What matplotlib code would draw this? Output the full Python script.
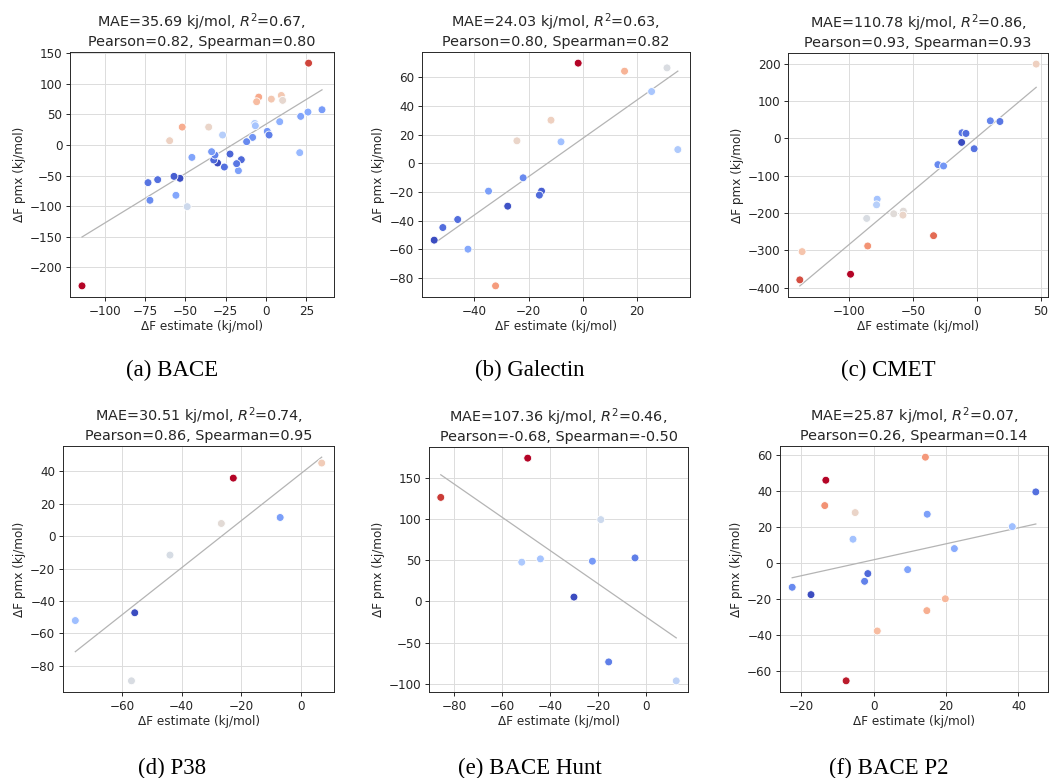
import numpy as np
import matplotlib
matplotlib.use("Agg")
import matplotlib.pyplot as plt
from matplotlib.colors import Normalize

# ---------------- data ----------------
bace_est = [-114.0, 26.4, 34.7, 26.0, 21.5, 20.9, 9.5, 10.3, 3.3, -4.5, -5.8, 8.5, 0.8, 1.9,
            -7.0, -6.6, -8.3, -12.0, -17.1, -15.3, -18.2, -22.3, -25.8, -30.0, -32.4, -31.6,
            -33.7, -26.9, -35.5, -51.9, -59.7, -45.9, -48.8, -55.8, -53.3, -57.0, -67.1, -73.1, -71.9]
bace_pmx = [-230.6, 134.1, 57.8, 54.0, 46.9, -12.5, 81.2, 73.1, 75.2, 78.5, 70.9, 38.2, 22.4, 16.4,
            35.4, 31.6, 12.5, 5.5, -42.0, -24.0, -30.5, -14.7, -36.0, -29.4, -24.5, -16.4,
            -10.9, 16.4, 29.4, 29.4, 7.1, -20.2, -100.9, -82.3, -54.5, -51.3, -56.7, -61.6, -90.5]

galectin_est = [-1.65, 15.5, 31.2, 25.5, 35.2, -11.7, -24.3, -8.0, -22.0, -15.2, -16.0, -27.7,
                -34.8, -46.2, -51.7, -54.9, -42.4, -32.2]
galectin_pmx = [69.8, 64.2, 66.5, 50.0, 9.5, 30.0, 15.6, 14.9, -10.2, -19.5, -22.3, -30.0,
                -19.5, -39.3, -44.9, -53.7, -60.0, -85.6]

cmet_est = [46.2, 10.4, 17.9, -11.7, -8.6, -12.0, -2.2, -30.5, -26.1, -77.9, -78.4, -65.0,
            -57.5, -57.8, -86.1, -33.9, -85.3, -136.5, -138.3, -98.7]
cmet_pmx = [199.0, 47.1, 45.3, 15.1, 13.3, -10.7, -27.6, -70.2, -73.8, -162.7, -177.8, -201.8,
            -194.7, -205.3, -214.2, -260.4, -288.0, -303.1, -378.7, -363.6]

p38_est = [6.9, -22.7, -7.0, -26.7, -43.9, -55.7, -75.6, -56.8]
p38_pmx = [45.1, 35.8, 11.5, 7.8, -11.7, -47.3, -52.1, -89.3]

hunt_est = [-49.4, -85.7, -18.9, -51.9, -44.1, -22.4, -4.6, -30.1, -15.6, 12.6]
hunt_pmx = [174.1, 126.4, 99.4, 47.7, 51.7, 48.9, 52.9, 5.3, -73.5, -96.5]

p2_est = [14.3, -13.2, 44.8, -13.5, -5.1, 14.8, 38.3, -5.7, 22.3, 9.4, -1.6, -2.5, -22.5,
          -17.3, 19.8, 14.7, 1.0, -7.6]
p2_pmx = [58.8, 46.0, 39.5, 31.9, 28.0, 27.1, 20.2, 13.2, 8.0, -3.7, -5.9, -10.2, -13.5,
          -17.6, -19.9, -26.5, -37.8, -65.5]

titles = [
    "MAE=35.69 kj/mol, $R^2$=0.67,\nPearson=0.82, Spearman=0.80",
    "MAE=24.03 kj/mol, $R^2$=0.63,\nPearson=0.80, Spearman=0.82",
    "MAE=110.78 kj/mol, $R^2$=0.86,\nPearson=0.93, Spearman=0.93",
    "MAE=30.51 kj/mol, $R^2$=0.74,\nPearson=0.86, Spearman=0.95",
    "MAE=107.36 kj/mol, $R^2$=0.46,\nPearson=-0.68, Spearman=-0.50",
    "MAE=25.87 kj/mol, $R^2$=0.07,\nPearson=0.26, Spearman=0.14",
]
captions = ["(a) BACE", "(b) Galectin", "(c) CMET", "(d) P38", "(e) BACE Hunt", "(f) BACE P2"]

datasets = [(bace_est, bace_pmx), (galectin_est, galectin_pmx), (cmet_est, cmet_pmx),
            (p38_est, p38_pmx), (hunt_est, hunt_pmx), (p2_est, p2_pmx)]

# ---------------- layout (pixels in a 1051x778 figure) ----------------
W, H = 1051, 778
axes_px = [  # left, right, top, bottom
    (70, 334, 52, 297),
    (422, 690, 52, 297),
    (788, 1048, 53, 297),
    (63, 334, 446, 692),
    (429, 688, 447, 692),
    (780, 1048, 446, 692),
]
caption_px = [(172, 370), (530, 370), (888, 370), (172, 768), (530, 768), (889, 768)]

SC = 0.867
plt.rcParams.update({
    "font.family": "DejaVu Sans",
    "font.size": 10 * SC,
    "axes.linewidth": 0.8 * SC,
    "xtick.major.size": 3.5 * SC,
    "ytick.major.size": 3.5 * SC,
    "xtick.major.width": 0.8 * SC,
    "ytick.major.width": 0.8 * SC,
    "xtick.labelsize": 10 * SC,
    "ytick.labelsize": 10 * SC,
    "axes.labelsize": 10 * SC,
    "axes.titlesize": 12 * SC,
    "axes.edgecolor": "#262626",
    "xtick.color": "#262626",
    "ytick.color": "#262626",
    "text.color": "#262626",
    "axes.labelcolor": "#262626",
})

fig = plt.figure(figsize=(W / 100, H / 100), dpi=100)
cmap = plt.get_cmap("coolwarm")

for i, (est, pmx) in enumerate(datasets):
    l, r, t, b = axes_px[i]
    ax = fig.add_axes([l / W, 1 - b / H, (r - l) / W, (b - t) / H])
    x = np.asarray(est, dtype=float)
    y = np.asarray(pmx, dtype=float)
    err = np.abs(y - x)
    norm = Normalize(vmin=err.min(), vmax=err.max())

    ax.grid(True, color="#dcdcdc", linewidth=0.8 * SC, zorder=0)
    ax.set_axisbelow(True)

    # least-squares fit line over the data range
    m, c = np.polyfit(x, y, 1)
    xs = np.array([x.min(), x.max()])
    ax.plot(xs, m * xs + c, color="#b4b4b4", linewidth=0.9, zorder=1)

    ax.scatter(x, y, c=cmap(norm(err)), s=32, edgecolors="white", linewidths=0.6, zorder=3)

    ax.set_title(titles[i], pad=4)
    ax.set_xlabel("ΔF estimate (kj/mol)", labelpad=2)
    ax.set_ylabel("ΔF pmx (kj/mol)", labelpad=3)
    ax.tick_params(pad=2.5)

for i, cap in enumerate(captions):
    cx, cy = caption_px[i]
    fig.text(cx / W, 1 - cy / H, cap, ha="center", va="center",
             family=["Liberation Serif", "DejaVu Serif"], fontsize=16.5, color="black")

fig.savefig("out.png", dpi=100, facecolor="white")
